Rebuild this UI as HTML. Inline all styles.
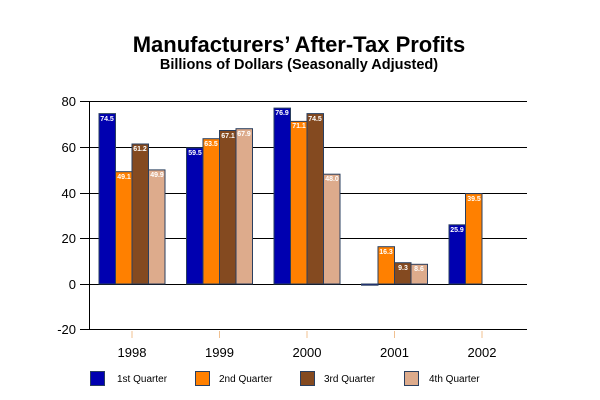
<!DOCTYPE html>
<html><head><meta charset="utf-8"><style>body{margin:0;background:#fff}svg{display:block}</style></head><body>
<svg width="600" height="400" xmlns="http://www.w3.org/2000/svg" font-family="Liberation Sans, Arial, sans-serif">
<rect width="600" height="400" fill="#fff"/>
<text x="299" y="52" text-anchor="middle" font-size="22" font-weight="bold">Manufacturers’ After-Tax Profits</text>
<text x="299" y="69" text-anchor="middle" font-size="14.5" font-weight="bold">Billions of Dollars (Seasonally Adjusted)</text>
<g stroke="#000" stroke-width="1">
<line x1="80" y1="101.5" x2="527" y2="101.5"/>
<line x1="80" y1="147.5" x2="527" y2="147.5"/>
<line x1="80" y1="193.5" x2="527" y2="193.5"/>
<line x1="80" y1="238.5" x2="527" y2="238.5"/>
<line x1="80" y1="284.5" x2="527" y2="284.5"/>
<line x1="80" y1="329.5" x2="527" y2="329.5"/>
<line x1="89.5" y1="101" x2="89.5" y2="330"/>
</g>
<g font-size="13" text-anchor="end">
<text x="76" y="106">80</text><text x="76" y="152">60</text><text x="76" y="198">40</text><text x="76" y="243">20</text><text x="76" y="289">0</text><text x="76" y="334">-20</text>
</g>
<g stroke="#f0c090"><line x1="132" y1="331" x2="132" y2="338"/><line x1="219.5" y1="331" x2="219.5" y2="338"/><line x1="307" y1="331" x2="307" y2="338"/><line x1="394.5" y1="331" x2="394.5" y2="338"/><line x1="482" y1="331" x2="482" y2="338"/></g>
<g font-size="13" text-anchor="middle">
<text x="132" y="357">1998</text><text x="219.5" y="357">1999</text><text x="307" y="357">2000</text><text x="394.5" y="357">2001</text><text x="482" y="357">2002</text>
</g>
<g stroke="#2a3f5f" stroke-width="1">
<rect x="99" y="113.6" width="16.5" height="170.4" fill="#0000b0"/>
<rect x="115.5" y="171.7" width="16.5" height="112.3" fill="#ff8000"/>
<rect x="132" y="144" width="16.5" height="140" fill="#844a20"/>
<rect x="148.5" y="169.9" width="16.5" height="114.1" fill="#ddab8c"/>
<rect x="186.5" y="147.9" width="16.5" height="136.1" fill="#0000b0"/>
<rect x="203" y="138.7" width="16.5" height="145.3" fill="#ff8000"/>
<rect x="219.5" y="130.5" width="16.5" height="153.5" fill="#844a20"/>
<rect x="236" y="128.7" width="16.5" height="155.3" fill="#ddab8c"/>
<rect x="274" y="108.1" width="16.5" height="175.9" fill="#0000b0"/>
<rect x="290.5" y="121.4" width="16.5" height="162.6" fill="#ff8000"/>
<rect x="307" y="113.6" width="16.5" height="170.4" fill="#844a20"/>
<rect x="323.5" y="174.2" width="16.5" height="109.8" fill="#ddab8c"/>
<rect x="361.5" y="284" width="16.5" height="1.2" fill="#0000b0"/>
<rect x="378" y="246.7" width="16.5" height="37.3" fill="#ff8000"/>
<rect x="394.5" y="262.7" width="16.5" height="21.3" fill="#844a20"/>
<rect x="411" y="264.3" width="16.5" height="19.7" fill="#ddab8c"/>
<rect x="449" y="224.8" width="16.5" height="59.2" fill="#0000b0"/>
<rect x="465.5" y="193.6" width="16.5" height="90.4" fill="#ff8000"/>
</g>
<g font-size="7" fill="#fff" text-anchor="middle" font-weight="bold">
<text x="107" y="121">74.5</text><text x="124" y="179">49.1</text><text x="140" y="151">61.2</text><text x="157" y="177">49.9</text>
<text x="195" y="155">59.5</text><text x="211" y="146">63.5</text><text x="228" y="138">67.1</text><text x="244" y="136">67.9</text>
<text x="282" y="115">76.9</text><text x="299" y="128">71.1</text><text x="315" y="121">74.5</text><text x="332" y="181">48.0</text>
<text x="386" y="254">16.3</text><text x="403" y="270">9.3</text><text x="419" y="271">8.6</text>
<text x="457" y="232">25.9</text><text x="474" y="201">39.5</text>
</g>
<g stroke="#2a3f5f">
<rect x="90.5" y="371.5" width="14" height="14" fill="#0000b0"/>
<rect x="195.5" y="371.5" width="14" height="14" fill="#ff8000"/>
<rect x="300.5" y="371.5" width="14" height="14" fill="#844a20"/>
<rect x="404.5" y="371.5" width="14" height="14" fill="#ddab8c"/>
</g>
<g font-size="10">
<text x="117" y="382">1st Quarter</text><text x="219" y="382">2nd Quarter</text><text x="324" y="382">3rd Quarter</text><text x="429" y="382">4th Quarter</text>
</g>
</svg>
</body></html>
